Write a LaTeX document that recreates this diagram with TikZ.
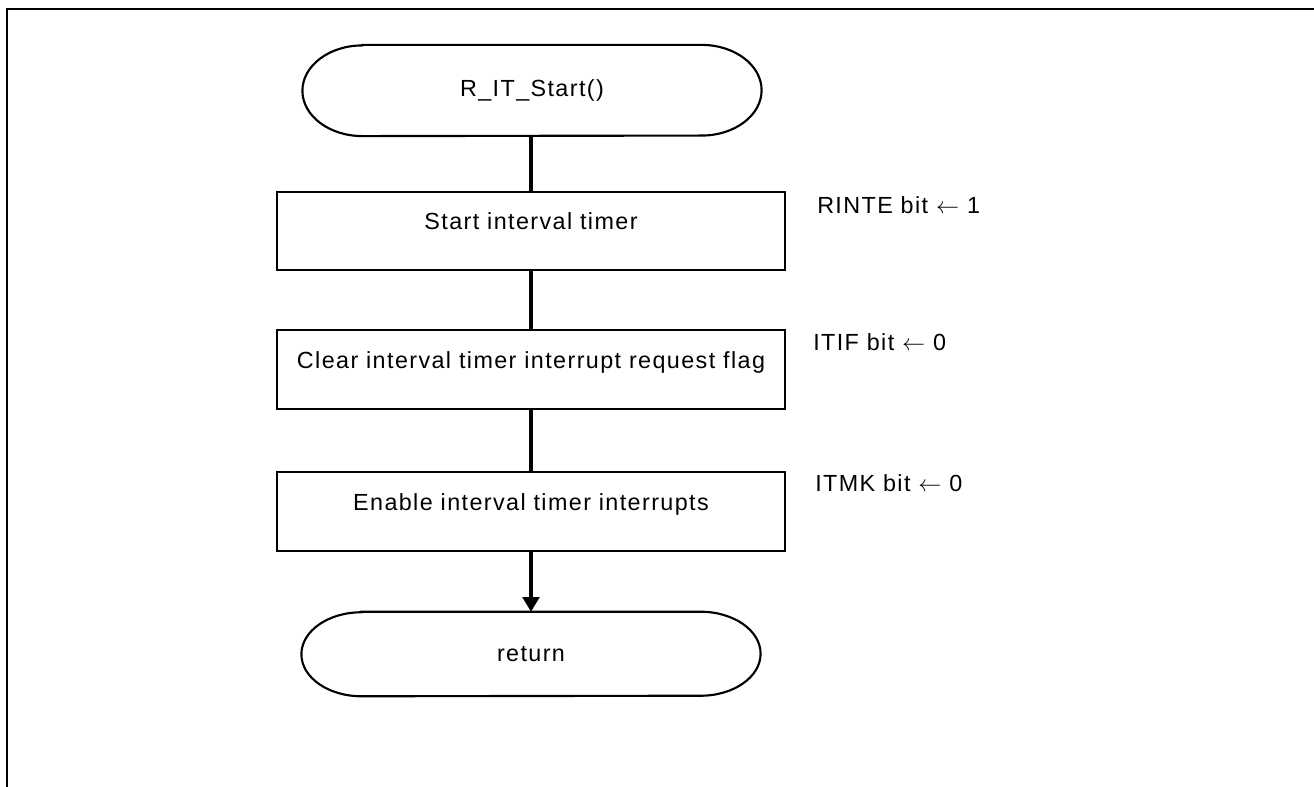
\documentclass[tikz,border=0pt]{standalone}
\usepackage{fontspec}
\setmainfont{Liberation Sans}[LetterSpace=6]
\usetikzlibrary{arrows.meta,calc}
\begin{document}
\begin{tikzpicture}[x=0.75pt,y=-0.75pt,
  every node/.style={font=\fontsize{17.5}{21}\selectfont},
  box/.style={draw,line width=1.6pt,minimum width=381pt,minimum height=59pt,inner sep=0pt,text height=12.5pt,text depth=14pt},
  term/.style={minimum width=344pt,minimum height=68pt,inner sep=0pt},
  tline/.style={line width=1.6pt},
  conn/.style={line width=2.4pt},
  lbl/.style={anchor=west,inner sep=0pt}]
\useasboundingbox (0,0) rectangle (1314,787);
\draw[line width=2.2pt] (7,800) -- (7,9) -- (1320,9);
\node[term] (start) at (532,90.5) {R\_IT\_Start()};
\draw[tline] ([xshift=45pt]start.north west) -- ([xshift=-45pt]start.north east)
  arc[start angle=90,end angle=-90,x radius=45pt,y radius=34pt]
  -- ([xshift=45pt]start.south west)
  arc[start angle=270,end angle=90,x radius=45pt,y radius=34pt] -- cycle;
\node[box] (b1) at (531,231) {Start interval timer};
\node[box] (b2) at (531,369.5) {Clear interval timer interrupt request flag};
\node[box] (b3) at (531,511.5) {Enable interval timer interrupts};
\node[term,minimum height=63pt] (ret) at (531,654) {return};
\draw[tline] ([xshift=45pt]ret.north west) -- ([xshift=-45pt]ret.north east)
  arc[start angle=90,end angle=-90,x radius=45pt,y radius=31.5pt]
  -- ([xshift=45pt]ret.south west)
  arc[start angle=270,end angle=90,x radius=45pt,y radius=31.5pt] -- cycle;
\node[lbl] (l1) at (817,205) {RINTE bit $\leftarrow$ 1};
\node[lbl] (l2) at (813,342) {ITIF bit $\leftarrow$ 0};
\node[lbl] (l3) at (815,483) {ITMK bit $\leftarrow$ 0};
\draw[conn] (start.south -| b1.north) -- (b1.north);
\draw[conn] (b1.south) -- (b2.north);
\draw[conn] (b2.south) -- (b3.north);
\draw[conn,-{Triangle[length=11pt,width=12.5pt]}] (b3.south) -- (ret.north);
\end{tikzpicture}
\end{document}
